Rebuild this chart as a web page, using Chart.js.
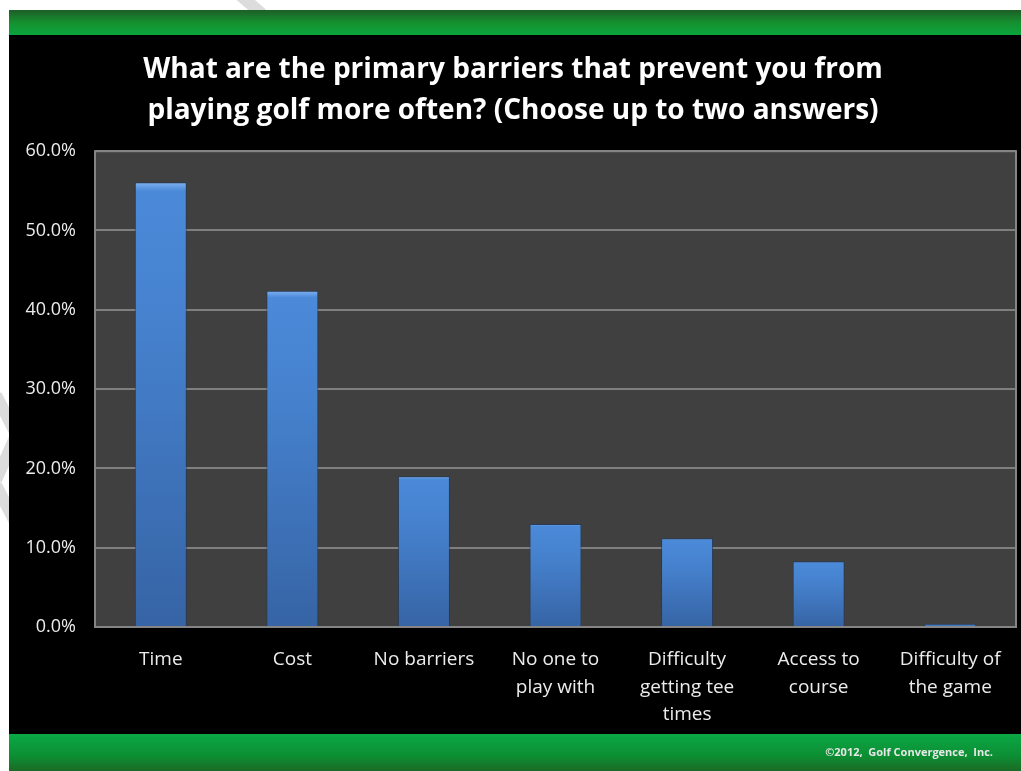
<!DOCTYPE html>
<html>
<head>
<meta charset="utf-8">
<script src="https://cdn.jsdelivr.net/npm/chart.js@4"></script>
<style>
  html, body { margin: 0; padding: 0; background: #fff; }
  canvas { display: block; }
</style>
</head>
<body>
<canvas id="barreras" width="1021" height="771"></canvas>
<script>
const categorias = [
  'Time',
  'Cost',
  'No barriers',
  ['No one to', 'play with'],
  ['Difficulty', 'getting tee', 'times'],
  ['Access to', 'course'],
  ['Difficulty of', 'the game']
];
const porcentajes = [56.1, 42.4, 19.0, 13.0, 11.2, 8.3, 0.4];
const titulo = [
  'What are the primary barriers that prevent you from',
  'playing golf more often? (Choose up to two answers)'
];
const pie = '\u00A92012,  Golf Convergence,  Inc.';

const fuente = "'Open Sans', Lato, sans-serif";

// fondo: blanco, panel negro, bandas verdes, area de grafica gris
const fondo = {
  id: 'fondo',
  beforeDraw(chart) {
    const c = chart.ctx;
    const w = chart.width, h = chart.height;
    c.save();
    c.fillStyle = '#ffffff';
    c.fillRect(0, 0, w, h);

    // marcas de agua claras
    c.strokeStyle = '#dcdcdc';
    c.lineWidth = 12;
    c.beginPath();
    c.moveTo(240, -5); c.lineTo(262, 14);
    c.moveTo(-4, 395); c.lineTo(14, 430);
    c.moveTo(14, 440); c.lineTo(-4, 480);
    c.moveTo(-4, 485); c.lineTo(14, 520);
    c.stroke();

    c.fillStyle = '#000000';
    c.fillRect(9, 10, w - 9, h - 10);

    let g = c.createLinearGradient(0, 10, 0, 35);
    g.addColorStop(0, '#1d5e27');
    g.addColorStop(0.5, '#15902f');
    g.addColorStop(1, '#0aa53e');
    c.fillStyle = g;
    c.fillRect(9, 10, w - 9, 25);

    g = c.createLinearGradient(0, 734, 0, h);
    g.addColorStop(0, '#0aa845');
    g.addColorStop(0.6, '#0d8e33');
    g.addColorStop(1, '#1b6a25');
    c.fillStyle = g;
    c.fillRect(9, 734, w - 9, h - 734);

    c.fillStyle = '#e8e8e8';
    c.font = "bold 11px " + fuente;
    c.textAlign = 'right';
    c.textBaseline = 'middle';
    c.fillText(pie, 993, 753);

    const a = chart.chartArea;
    c.fillStyle = '#404040';
    c.fillRect(a.left, a.top, a.right - a.left, a.bottom - a.top);
    c.restore();
  },
  afterDraw(chart) {
    const c = chart.ctx;
    const a = chart.chartArea;
    c.save();
    c.strokeStyle = '#858585';
    c.lineWidth = 2;
    c.strokeRect(a.left, a.top, a.right - a.left, a.bottom - a.top);
    c.restore();
  }
};

function degradado(context) {
  const chart = context.chart;
  const a = chart.chartArea;
  if (!a) return '#4a86d4';
  const y = chart.scales.y;
  const v = context.raw || 0;
  const top = y.getPixelForValue(v);
  const g = chart.ctx.createLinearGradient(0, top, 0, a.bottom);
  g.addColorStop(0, '#7fb2f0');
  g.addColorStop(0.02, '#4b8ad9');
  g.addColorStop(0.35, '#4580cc');
  g.addColorStop(1, '#3664a5');
  return g;
}

new Chart(document.getElementById('barreras'), {
  type: 'bar',
  data: {
    labels: categorias,
    datasets: [{
      label: '',
      data: porcentajes,
      backgroundColor: degradado,
      borderColor: 'rgba(30, 55, 95, 0.7)',
      borderWidth: 1,
      barPercentage: 0.52,
      categoryPercentage: 0.76
    }]
  },
  options: {
    responsive: false,
    animation: false,
    layout: { padding: { left: 10, right: 5, top: 36, bottom: 36 } },
    scales: {
      y: {
        min: 0,
        max: 60,
        ticks: {
          stepSize: 10,
          color: '#ececec',
          padding: 19,
          font: { family: fuente, size: 18 },
          callback: v => v.toFixed(1) + '%'
        },
        grid: { color: '#7f7f7f', lineWidth: 2, drawTicks: false },
        border: { display: false },
        afterFit(scale) { scale.width = 85; }
      },
      x: {
        ticks: {
          color: '#ececec',
          padding: 11,
          maxRotation: 0,
          autoSkip: false,
          font: { family: fuente, size: 19, lineHeight: 1.45 }
        },
        grid: { display: false },
        border: { display: false },
        afterFit(scale) { scale.height = 108; }
      }
    },
    plugins: {
      legend: { display: false },
      tooltip: { enabled: false },
      title: {
        display: true,
        text: titulo,
        color: '#ffffff',
        font: { family: fuente, size: 28, weight: 'bold', lineHeight: 1.45 },
        padding: { top: 14, bottom: 20 }
      }
    }
  },
  plugins: [fondo]
});
</script>
</body>
</html>
